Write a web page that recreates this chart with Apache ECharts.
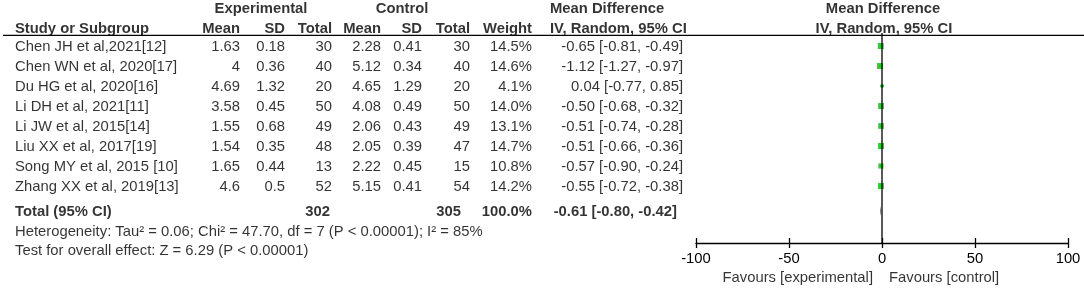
<!DOCTYPE html>
<html>
<head>
<meta charset="utf-8">
<script src="https://cdn.jsdelivr.net/npm/echarts@6/dist/echarts.min.js"></script>
<style>
  html, body { margin: 0; padding: 0; background: #fff; }
  #chart { width: 1084px; height: 288px; }
</style>
</head>
<body>
<div id="chart"></div>
<script>
// study data
const studies = [
  'Chen JH et al,2021[12]', 'Chen WN et al, 2020[17]', 'Du HG et al, 2020[16]',
  'Li DH et al, 2021[11]', 'Li JW et al, 2015[14]', 'Liu XX et al, 2017[19]',
  'Song MY et al, 2015 [10]', 'Zhang XX et al, 2019[13]'
]
const expMean = [1.63, 4, 4.69, 3.58, 1.55, 1.54, 1.65, 4.6]
const expSD = [0.18, 0.36, 1.32, 0.45, 0.68, 0.35, 0.44, 0.5]
const expTotal = [30, 40, 20, 50, 49, 48, 13, 52]
const ctlMean = [2.28, 5.12, 4.65, 4.08, 2.06, 2.05, 2.22, 5.15]
const ctlSD = [0.41, 0.34, 1.29, 0.49, 0.43, 0.39, 0.45, 0.41]
const ctlTotal = [30, 40, 20, 50, 49, 47, 15, 54]
const weight = [14.5, 14.6, 4.1, 14.0, 13.1, 14.7, 10.8, 14.2]
const md = [-0.65, -1.12, 0.04, -0.50, -0.51, -0.51, -0.57, -0.55]
const ciLow = [-0.81, -1.27, -0.77, -0.68, -0.74, -0.66, -0.90, -0.72]
const ciHigh = [-0.49, -0.97, 0.85, -0.32, -0.28, -0.36, -0.24, -0.38]

// pooled result
const totalLabel = 'Total (95% CI)'
const totalExp = 302
const totalCtl = 305
const totalWeight = 100.0
const totalMd = -0.61
const totalLow = -0.80
const totalHigh = -0.42
const heterogeneity = 'Heterogeneity: Tau² = 0.06; Chi² = 47.70, df = 7 (P < 0.00001); I² = 85%'
const overallEffect = 'Test for overall effect: Z = 6.29 (P < 0.00001)'

const xTicks = [-100, -50, 0, 50, 100]
const favours = ['Favours [experimental]', 'Favours [control]']

// layout (table grid x is in px, y is in row units)
const FONT = '"Liberation Sans", Arial, sans-serif'
const FS = 14.8
const ROW_H1 = -1.9
const ROW_H2 = -0.9
const ROW_RULE = -0.6
const ROW_TOTAL = 8.25
const ROW_HET = 9.25
const ROW_TEST = 10.2
const ROW_FAV = 11.55
const col = { name: 15, eMean: 240, eSD: 285, eTot: 332, cMean: 381, cSD: 422, cTot: 470, w: 532, ci: 683, ciHead: 550 }

const fmtCI = (m, l, h) => m.toFixed(2) + ' [' + l.toFixed(2) + ', ' + h.toFixed(2) + ']'
const rows = studies.map((s, i) => i)

function textSeries(items, align, bold) {
  return {
    type: 'scatter',
    xAxisIndex: 0,
    yAxisIndex: 0,
    symbolSize: 0,
    silent: true,
    clip: false,
    data: items.map(it => ({ name: it[0], value: [it[1], it[2]] })),
    label: {
      show: true,
      position: 'inside',
      align: align,
      verticalAlign: 'middle',
      formatter: p => p.name,
      color: '#000',
      fontFamily: FONT,
      fontSize: FS,
      fontWeight: bold ? 'bold' : 'normal'
    }
  }
}

const chart = echarts.init(document.getElementById('chart'))

const headBold = [
  ['Experimental', 261, ROW_H1], ['Control', 402, ROW_H1],
  ['Mean Difference', 883, ROW_H1], ['IV, Random, 95% CI', 884, ROW_H2]
]
const headBoldLeft = [
  ['Study or Subgroup', col.name, ROW_H2], ['Mean Difference', col.ciHead, ROW_H1],
  ['IV, Random, 95% CI', col.ciHead, ROW_H2], [totalLabel, col.name, ROW_TOTAL]
]
const headBoldRight = [
  ['Mean', col.eMean, ROW_H2], ['SD', col.eSD, ROW_H2], ['Total', col.eTot, ROW_H2],
  ['Mean', col.cMean, ROW_H2], ['SD', col.cSD, ROW_H2], ['Total', col.cTot, ROW_H2],
  ['Weight', col.w, ROW_H2],
  [String(totalExp), 330, ROW_TOTAL], [String(totalCtl), 461, ROW_TOTAL],
  [totalWeight.toFixed(1) + '%', col.w, ROW_TOTAL],
  [fmtCI(totalMd, totalLow, totalHigh), 677, ROW_TOTAL]
]
const bodyLeft = rows.map(i => [studies[i], col.name, i]).concat([
  [heterogeneity, col.name, ROW_HET], [overallEffect, col.name, ROW_TEST],
  [favours[1], 889, ROW_FAV]
])
const bodyRight = [].concat(
  rows.map(i => [String(expMean[i]), col.eMean, i]),
  rows.map(i => [String(expSD[i]), col.eSD, i]),
  rows.map(i => [String(expTotal[i]), col.eTot, i]),
  rows.map(i => [String(ctlMean[i]), col.cMean, i]),
  rows.map(i => [String(ctlSD[i]), col.cSD, i]),
  rows.map(i => [String(ctlTotal[i]), col.cTot, i]),
  rows.map(i => [weight[i].toFixed(1) + '%', col.w, i]),
  rows.map(i => [fmtCI(md[i], ciLow[i], ciHigh[i]), col.ci, i]),
  [[favours[0], 873, ROW_FAV]]
)

const option = {
  animation: false,
  backgroundColor: '#fff',
  grid: [
    { left: 0, right: 0, top: 0, bottom: 0 },
    { left: 696, right: 16, top: 33, bottom: 45 },
    { left: 696, right: 16, top: 33, bottom: 45 }
  ],
  xAxis: [
    { gridIndex: 0, type: 'value', min: 0, max: 1084, show: false },
    {
      gridIndex: 1, type: 'value', position: 'bottom',
      min: xTicks[0], max: xTicks[xTicks.length - 1], interval: xTicks[1] - xTicks[0],
      axisLine: { onZero: false, lineStyle: { color: '#000', width: 1.3 } },
      axisTick: { inside: true, length: 5, lineStyle: { color: '#000', width: 1.3 } },
      axisLabel: { color: '#000', fontFamily: FONT, fontSize: FS, margin: 8 },
      splitLine: { show: false }
    },
    {
      gridIndex: 2, type: 'value', position: 'bottom',
      min: xTicks[0], max: xTicks[xTicks.length - 1], interval: xTicks[1] - xTicks[0],
      axisLine: { show: false, onZero: false },
      axisTick: { inside: false, length: 5, lineStyle: { color: '#000', width: 1.3 } },
      axisLabel: { show: false },
      splitLine: { show: false }
    }
  ],
  yAxis: [
    { gridIndex: 0, type: 'value', min: -2.37, max: 12.03, inverse: true, show: false },
    { gridIndex: 1, type: 'value', min: -0.65, max: 9.85, inverse: true, show: false },
    { gridIndex: 2, type: 'value', min: -0.65, max: 9.85, inverse: true, show: false }
  ],
  series: [
    // header rule
    {
      type: 'line', xAxisIndex: 0, yAxisIndex: 0, symbol: 'none', silent: true,
      data: [[3, ROW_RULE], [1084, ROW_RULE]],
      lineStyle: { color: '#000', width: 1.3 }
    },
    // line of no effect
    {
      type: 'line', xAxisIndex: 1, yAxisIndex: 1, symbol: 'none', silent: true,
      data: [[0, -0.65], [0, 9.85]],
      lineStyle: { color: '#000', width: 1.3 }
    },
    // confidence intervals
    {
      type: 'custom', xAxisIndex: 1, yAxisIndex: 1, silent: true,
      data: rows.map(i => [ciLow[i], ciHigh[i], i]),
      encode: { x: [0, 1], y: 2 },
      renderItem: (params, api) => {
        const a = api.coord([api.value(0), api.value(2)])
        const b = api.coord([api.value(1), api.value(2)])
        return { type: 'line', shape: { x1: a[0], y1: a[1], x2: b[0], y2: b[1] }, style: { stroke: '#000', lineWidth: 1 } }
      }
    },
    // study squares
    {
      type: 'scatter', xAxisIndex: 1, yAxisIndex: 1, silent: true,
      symbol: 'rect',
      symbolSize: (v, p) => 6 * Math.sqrt(weight[p.dataIndex] / 14.5),
      itemStyle: { color: '#00c000' },
      data: rows.map(i => [md[i], i])
    },
    // pooled diamond
    {
      type: 'custom', xAxisIndex: 1, yAxisIndex: 1, silent: true,
      data: [[totalMd, totalLow, totalHigh, ROW_TOTAL]],
      renderItem: (params, api) => {
        const y = api.value(3)
        const l = api.coord([api.value(1), y])
        const r = api.coord([api.value(2), y])
        const m = api.coord([api.value(0), y])
        return {
          type: 'polygon',
          shape: { points: [l, [m[0], m[1] - 5], r, [m[0], m[1] + 5]] },
          style: { fill: '#000' }
        }
      }
    },
    textSeries(headBold, 'center', true),
    textSeries(headBoldLeft, 'left', true),
    textSeries(headBoldRight, 'right', true),
    textSeries(bodyLeft, 'left', false),
    textSeries(bodyRight, 'right', false)
  ]
}

chart.setOption(option)
</script>
</body>
</html>
